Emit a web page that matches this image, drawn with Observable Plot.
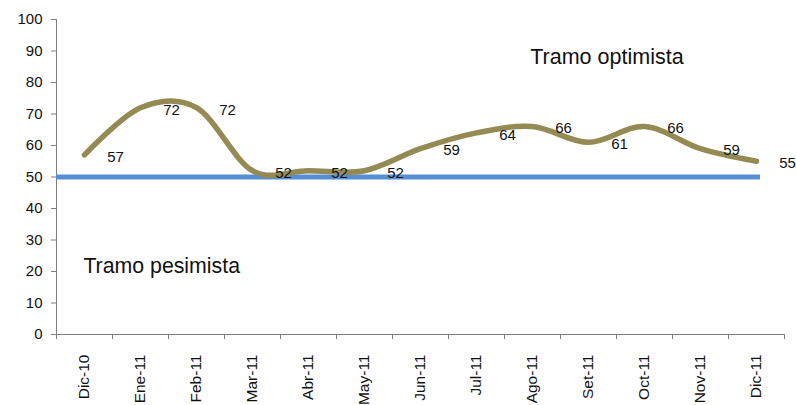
<!DOCTYPE html>
<html><head><meta charset="utf-8">
<script src="https://cdn.jsdelivr.net/npm/d3@7"></script>
<script src="https://cdn.jsdelivr.net/npm/@observablehq/plot@0.6"></script>
<style>
body{margin:0;background:#fff;}
#chart svg{font-family:"Liberation Sans",Arial,sans-serif;background:#fff;}
</style>
</head><body><div id="chart"></div>
<script>
const months = ["Dic-10","Ene-11","Feb-11","Mar-11","Abr-11","May-11","Jun-11","Jul-11","Ago-11","Set-11","Oct-11","Nov-11","Dic-11"];
const values = [57,72,72,52,52,52,59,64,66,61,66,59,55];
const threshold = 50;
const yTicks = [0,10,20,30,40,50,60,70,80,90,100];
const zoneLabels = ["Tramo optimista","Tramo pesimista"];

const idx = months.map((_, i) => i);
const bounds = d3.range(months.length + 1).map(i => i - 0.5);
const axisColor = "#7f7f7f";

const chart = Plot.plot({
  width: 796,
  height: 405,
  marginLeft: 56,
  marginRight: 12,
  marginTop: 19,
  marginBottom: 71,
  x: {type: "linear", domain: [-0.5, months.length - 0.5]},
  y: {domain: [0, 100]},
  marks: [
    Plot.axisY({ticks: yTicks, tickSize: 5, tickPadding: 9, fontSize: 15, stroke: axisColor, fill: "#111", tickFormat: d => d}),
    Plot.axisX({ticks: bounds, tickSize: 5, tickFormat: () => "", stroke: axisColor}),
    Plot.axisX({ticks: idx, tickSize: 0, tickPadding: 20, tickRotate: -90, fontSize: 15.5, fill: "#111", tickFormat: i => months[i]}),
    Plot.ruleY([0], {stroke: axisColor}),
    Plot.ruleX([-0.5], {y1: 0, y2: 100, stroke: axisColor}),
    Plot.ruleY([threshold], {x1: -0.5, x2: months.length - 1, insetRight: -4, stroke: "#558ed5", strokeWidth: 5}),
    Plot.line(idx, {x: i => i, y: i => values[i], curve: "cardinal", tension: 0, stroke: "#948a54", strokeWidth: 5.5, strokeLinecap: "round"}),
    Plot.text(idx, {x: i => i, y: i => values[i], text: i => String(values[i]), dx: 31, dy: 2, fontSize: 15, fill: "#111"}),
    Plot.text([zoneLabels[0]], {x: 7.96, y: 88, text: d => d, textAnchor: "start", fontSize: 21.5, fill: "#111"}),
    Plot.text([zoneLabels[1]], {x: -0.02, y: 21.8, text: d => d, textAnchor: "start", fontSize: 21.3, fill: "#111"})
  ]
});
document.getElementById("chart").appendChild(chart);
</script>
</body></html>
